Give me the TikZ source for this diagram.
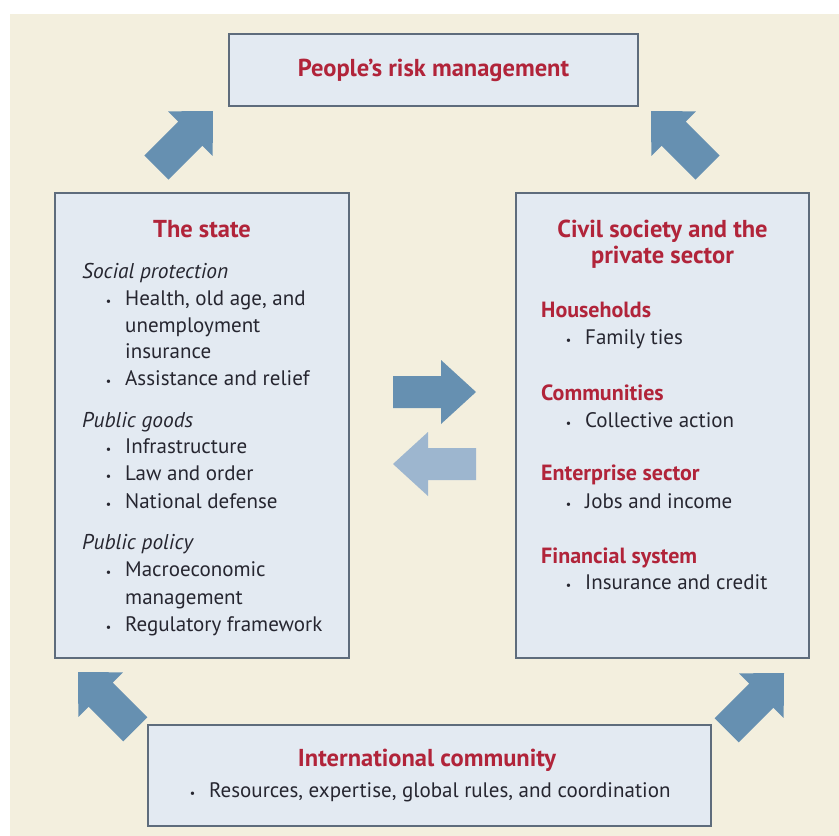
\documentclass[tikz,border=0pt]{standalone}
\usepackage{fontspec}
\setmainfont{PT Sans}
\definecolor{paper}{HTML}{F3EFDE}
\definecolor{boxfill}{HTML}{E3EAF2}
\definecolor{boxline}{HTML}{5E6C7C}
\definecolor{headred}{HTML}{B1243A}
\definecolor{ink}{HTML}{262630}
\definecolor{arrowdark}{HTML}{6690B1}
\definecolor{arrowlight}{HTML}{9DB6CF}
\newcommand{\bul}{\llap{{\fontsize{12}{12}\selectfont\textbullet}\hspace{14pt}}}
\tikzset{
  panel/.style={draw=boxline, line width=1.6pt, fill=boxfill, inner sep=0pt},
  headline/.style={text=headred, font=\fontsize{24.5}{28}\selectfont\bfseries, inner sep=0pt, anchor=base},
  subhead/.style={text=headred, font=\fontsize{22}{26}\selectfont\bfseries, inner sep=0pt, anchor=base west},
  itemline/.style={text=ink, font=\fontsize{21}{25}\selectfont, inner sep=0pt, anchor=base west},
  ithead/.style={text=ink, font=\fontsize{21.4}{25}\selectfont\itshape, inner sep=0pt, anchor=base west},
  pics/blockarrow/.style args={#1/#2/#3/#4}{code={
    \path[pic actions] (0,0) -- (-#2,#3) -- (-#2,#4) -- (-#1,#4) -- (-#1,-#4)
      -- (-#2,-#4) -- (-#2,-#3) -- cycle;}},
}
\begin{document}
\begin{tikzpicture}[x=1pt,y=-1pt]
\useasboundingbox (0,0) rectangle (839,836);
\fill[paper] (10,14) rectangle (839,836);

% boxes
\node[panel, minimum width=409pt, minimum height=72pt] (people) at (433.5,70) {};
\node[panel, minimum width=294pt, minimum height=465pt] (state) at (202,425.5) {};
\node[panel, minimum width=293pt, minimum height=465pt] (civil) at (662.5,425.5) {};
\node[panel, minimum width=563pt, minimum height=101pt] (intl) at (429.5,775.5) {};

% top box
\node[headline] (peoplet) at (433.5,76) {People’s risk management};

% the state
\node[headline] (statet) at (202,237) {The state};
\node[ithead] (sp) at (82,278) {Social protection};
\node[itemline] (sp1) at (125,305) {\bul Health, old age, and};
\node[itemline] (sp1b) at (125,332) {unemployment};
\node[itemline] (sp1c) at (125,358) {insurance};
\node[itemline] (sp2) at (125,385) {\bul Assistance and relief};
\node[ithead] (pg) at (82,427) {Public goods};
\node[itemline] (pg1) at (125,453) {\bul Infrastructure};
\node[itemline] (pg2) at (125,480) {\bul Law and order};
\node[itemline] (pg3) at (125,508) {\bul National defense};
\node[ithead] (pp) at (82,549) {Public policy};
\node[itemline] (pp1) at (125,576) {\bul Macroeconomic};
\node[itemline] (pp1b) at (125,604) {management};
\node[itemline] (pp2) at (125,631) {\bul Regulatory framework};

% civil society and the private sector
\node[headline] (civilt1) at (662.5,237) {Civil society and the};
\node[headline] (civilt2) at (662.5,263) {private sector};
\node[subhead] (hh) at (541,317) {Households};
\node[itemline] (hh1) at (585,344) {\bul Family ties};
\node[subhead] (cm) at (541,400) {Communities};
\node[itemline] (cm1) at (585,427) {\bul Collective action};
\node[subhead] (en) at (541,480) {Enterprise sector};
\node[itemline] (en1) at (585,508) {\bul Jobs and income};
\node[subhead] (fs) at (541,563) {Financial system};
\node[itemline] (fs1) at (585,589) {\bul Insurance and credit};

% international community
\node[headline] (intlt) at (427,766) {International community};
\node[itemline] (intl1) at (209,797) {\bul Resources, expertise, global rules, and coordination};

% block arrows
\pic[fill=arrowdark, rotate=45] at (213,111) {blockarrow=80/32/31.5/17};
\pic[fill=arrowdark, rotate=135] at (651,111) {blockarrow=80/32/31.5/17};
\pic[fill=arrowdark, rotate=135] at (78,672) {blockarrow=81/32/31.5/17};
\pic[fill=arrowdark, rotate=45] at (784,673) {blockarrow=81/32/31.5/17};
\pic[fill=arrowdark] at (476,392) {blockarrow=83/35/32/16};
\pic[fill=arrowlight, rotate=180] at (393,464) {blockarrow=83/35/32/16};
\end{tikzpicture}
\end{document}
